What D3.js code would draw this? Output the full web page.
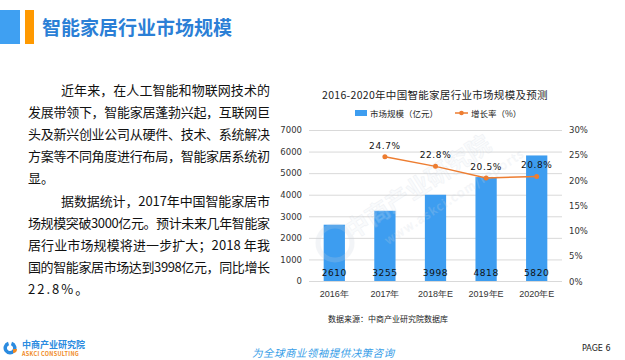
<!DOCTYPE html>
<html><head><meta charset="utf-8">
<script src="https://cdn.jsdelivr.net/npm/d3@7"></script>
<style>
body{margin:0;background:#fff;}
svg{display:block;font-family:"Noto Sans CJK SC","Noto Sans",sans-serif;}
</style></head>
<body>
<script>
const categories = ["2016年","2017年","2018年E","2019年E","2020年E"];
const marketSize = [2610,3255,3998,4818,5820];
const growthRate = [null,24.7,22.8,20.5,20.8];
const leftTicks = [0,1000,2000,3000,4000,5000,6000,7000];
const rightTicks = [0,5,10,15,20,25,30];
const paragraph1 = ["近年来，在人工智能和物联网技术的","发展带领下，智能家居蓬勃兴起，互联网巨","头及新兴创业公司从硬件、技术、系统解决","方案等不同角度进行布局，智能家居系统初","显。"];
const paragraph2 = ["据数据统计，2017年中国智能家居市","场规模突破3000亿元。预计未来几年智能家","居行业市场规模将进一步扩大；2018 年我","国的智能家居市场达到3998亿元，同比增长","22.8%。"];

const W=625,H=360;
const svg=d3.select("body").append("svg").attr("width",W).attr("height",H);

// header
svg.append("rect").attr("x",0).attr("y",10).attr("width",20).attr("height",34).attr("fill","#3fa0f2");
svg.append("rect").attr("x",25).attr("y",10).attr("width",9).attr("height",34).attr("fill","#ff9900");
svg.append("text").attr("x",42).attr("y",35).attr("font-size",19).attr("font-weight","bold")
  .attr("fill","#2b7fd6").text("智能家居行业市场规模");

// paragraphs
const lines=[];
paragraph1.forEach((t,i)=>lines.push({t,first:i==0,last:i==paragraph1.length-1}));
paragraph2.forEach((t,i)=>lines.push({t,first:i==0,last:i==paragraph2.length-1}));
lines.forEach((l,i)=>{
  const x=l.first?61:28;
  const tx=svg.append("text").attr("x",x).attr("y",95+i*22.1).attr("font-size",13).attr("fill","#111").text(l.t);
  if(!l.last) tx.attr("textLength",270-x).attr("lengthAdjust","spacing");
  else tx.attr("letter-spacing",l.t.startsWith("22")?2:0);
});

// chart
const x0=309,x1=562,yTop=130,yBot=281;
const x=d3.scaleBand().domain(categories).range([x0,x1]).paddingInner(0.58).paddingOuter(0.29);
const yL=d3.scaleLinear().domain([0,7000]).range([yBot,yTop]);
const yR=d3.scaleLinear().domain([0,30]).range([yBot+0.5,yTop]);

svg.append("text").attr("x",435).attr("y",99).attr("text-anchor","middle").attr("font-size",10.5)
  .attr("letter-spacing",0.3).attr("fill","#222").text("2016-2020年中国智能家居行业市场规模及预测");

// legend
svg.append("rect").attr("x",355).attr("y",110).attr("width",12).attr("height",6).attr("fill","#3d9df0");
svg.append("text").attr("x",370).attr("y",116.5).attr("font-size",8.5).attr("fill","#222").text("市场规模（亿元）");
svg.append("line").attr("x1",455).attr("x2",468).attr("y1",113).attr("y2",113).attr("stroke","#ed7d31").attr("stroke-width",1.5);
svg.append("circle").attr("cx",461.5).attr("cy",113).attr("r",2.3).attr("fill","#ed7d31");
svg.append("text").attr("x",471).attr("y",116.5).attr("font-size",8.5).attr("fill","#222").text("增长率（%）");

// grid
const gLeft=svg.append("g").attr("transform",`translate(${x0},0)`)
  .call(d3.axisLeft(yL).tickValues(leftTicks).tickSize(-(x1-x0)).tickPadding(7).tickFormat(d3.format("d")));
gLeft.select(".domain").remove();
gLeft.selectAll(".tick line").attr("stroke","#d9d9d9");
gLeft.selectAll(".tick text").attr("font-size",8.5).attr("fill","#333").attr("font-family","DejaVu Sans, sans-serif");

const gRight=svg.append("g").attr("transform",`translate(${x1},0)`)
  .call(d3.axisRight(yR).tickValues(rightTicks).tickSize(0).tickPadding(7).tickFormat(d=>d+"%"));
gRight.select(".domain").remove();
gRight.selectAll(".tick text").attr("font-size",8.5).attr("fill","#333").attr("font-family","DejaVu Sans, sans-serif");

// bars
svg.selectAll(".bar").data(categories).enter().append("rect")
  .attr("x",d=>x(d)).attr("width",x.bandwidth())
  .attr("y",(d,i)=>yL(marketSize[i])).attr("height",(d,i)=>yBot-yL(marketSize[i]))
  .attr("fill","#3d9df0");

// watermark (over bars, faint)
const wm=svg.append("g").attr("opacity",0.22).attr("fill","#e8eef5");
wm.append("circle").attr("cx",335).attr("cy",243).attr("r",17).attr("fill","none").attr("stroke","#c8d2de").attr("stroke-width",5);
wm.append("text").attr("transform","translate(352,240) rotate(-33)").attr("font-size",24).attr("font-weight","bold")
  .attr("stroke","#b8c4d2").attr("stroke-width",0.6).text("中商产业研究院");
wm.append("text").attr("transform","translate(388,245) rotate(-33)").attr("font-size",12).attr("letter-spacing",1.5)
  .attr("stroke","#b8c4d2").attr("stroke-width",0.4).text("www.askci.com/reports");

svg.selectAll(".blab").data(categories).enter().append("text")
  .attr("x",d=>x(d)+x.bandwidth()/2).attr("y",276).attr("text-anchor","middle")
  .attr("font-size",9).attr("letter-spacing",0.6).attr("font-family","DejaVu Sans, sans-serif").attr("fill","#111")
  .text((d,i)=>marketSize[i]);

// x axis labels
const gx=svg.append("g").attr("transform",`translate(0,${yBot})`).call(d3.axisBottom(x).tickSize(0).tickPadding(10));
gx.select(".domain").remove();
gx.selectAll(".tick text").attr("font-size",9).attr("fill","#333");

// line
const pts=categories.map((c,i)=>({c,v:growthRate[i]})).filter(p=>p.v!=null);
const line=d3.line().x(p=>x(p.c)+x.bandwidth()/2).y(p=>yR(p.v));
svg.append("path").datum(pts).attr("d",line).attr("fill","none").attr("stroke","#ed7d31").attr("stroke-width",1.5);
svg.selectAll(".dot").data(pts).enter().append("circle")
  .attr("cx",p=>x(p.c)+x.bandwidth()/2).attr("cy",p=>yR(p.v)).attr("r",2.5).attr("fill","#ed7d31");
svg.selectAll(".llab").data(pts).enter().append("text")
  .attr("x",p=>x(p.c)+x.bandwidth()/2).attr("y",p=>yR(p.v)-8).attr("text-anchor","middle")
  .attr("font-size",9).attr("letter-spacing",0.6).attr("font-family","DejaVu Sans, sans-serif").attr("fill","#111")
  .text(p=>p.v.toFixed(1)+"%");

// source
svg.append("text").attr("x",328).attr("y",322).attr("font-size",8).attr("fill","#222").text("数据来源：中商产业研究院数据库");

// footer
const logo=svg.append("g");
logo.append("path").attr("d",d3.arc()({innerRadius:3,outerRadius:6.5,startAngle:Math.PI*0.1,endAngle:Math.PI*1.9})).attr("transform","translate(10,348)").attr("fill","#2b8be0");
logo.append("path").attr("d",d3.arc()({innerRadius:0,outerRadius:4,startAngle:Math.PI*0.5,endAngle:Math.PI})).attr("transform","translate(13,349)").attr("fill","#f08a24");
svg.append("text").attr("x",22).attr("y",348).attr("font-size",9).attr("font-weight","bold").attr("fill","#2b8be0").text("中商产业研究院");
svg.append("text").attr("x",22).attr("y",356).attr("font-size",5.5).attr("font-weight","bold").attr("fill","#f08a24").attr("letter-spacing",0.3).text("ASKCI CONSULTING");
svg.append("text").attr("x",252).attr("y",357).attr("font-size",10.5).attr("font-style","italic").attr("fill","#3aa0e8")
  .attr("textLength",142).attr("lengthAdjust","spacing").text("为全球商业领袖提供决策咨询");
svg.append("text").attr("x",582).attr("y",351).attr("font-size",8).attr("fill","#222").attr("font-family","DejaVu Sans, sans-serif").text("PAGE  6");
</script>
</body></html>
